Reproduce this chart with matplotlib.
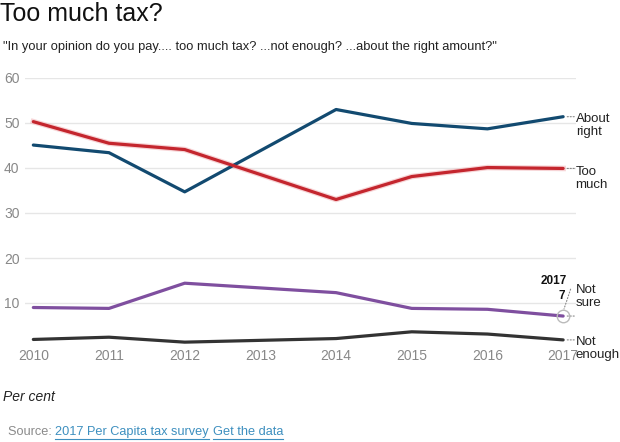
import numpy as np
import matplotlib.pyplot as plt
from matplotlib.lines import Line2D

plt.rcParams['font.family'] = ['Liberation Sans', 'DejaVu Sans']

# --- data (no survey in 2013) ---
years = [2010, 2011, 2012, 2014, 2015, 2016, 2017]
about_right = [45.1, 43.4, 34.7, 53.0, 49.9, 48.7, 51.4]
too_much = [50.3, 45.5, 44.1, 33.0, 38.1, 40.1, 39.9]
not_sure = [9.0, 8.8, 14.4, 12.3, 8.8, 8.6, 7.1]
not_enough = [1.9, 2.4, 1.3, 2.1, 3.6, 3.1, 1.8]

tick_years = [2010, 2011, 2012, 2013, 2014, 2015, 2016, 2017]
y_ticks = [10, 20, 30, 40, 50, 60]

W, H = 620, 442
fig = plt.figure(figsize=(W / 100, H / 100), dpi=100)
ax = fig.add_axes([25 / W, 1 - 348 / H, 551 / W, 270 / H])

def px(x, y):
    return x / W, 1 - y / H

# lines
ax.plot(years, about_right, color='#124a70', lw=2.3, solid_capstyle='round', zorder=3)
ax.plot(years, too_much, color='#f2b8bb', lw=4, alpha=0.6, zorder=2)
ax.plot(years, too_much, color='#c4262e', lw=2.3, solid_capstyle='round', zorder=3)
ax.plot(years, not_sure, color='#7f4f9f', lw=2.3, solid_capstyle='round', zorder=3)
ax.plot(years, not_enough, color='#333333', lw=2.3, solid_capstyle='round', zorder=3)

# highlight point
ax.plot([years[-1]], [not_sure[-1]], 'o', ms=9, mfc='none', mec='#bbbbbb', mew=1, zorder=4)

ax.set_xlim(2009.89, 2017.17)
ax.set_ylim(0, 60)
ax.set_yticks(y_ticks)
ax.set_xticks(tick_years)
ax.grid(axis='y', color='#e6e6e6', lw=1)
ax.set_axisbelow(True)
for s in ax.spines.values():
    s.set_visible(False)
ax.tick_params(length=0, colors='#888888', labelsize=10)
ax.tick_params(axis='x', pad=1)
ax.tick_params(axis='y', pad=4)

# series end labels
labels = [('About\nright', about_right[-1], 3),
          ('Too\nmuch', too_much[-1], 2),
          ('Not\nsure', not_sure[-1], 23),
          ('Not\nenough', not_enough[-1], 3)]
for text, val, off in labels:
    ax.annotate(text, xy=(years[-1], val), xytext=(9, off), textcoords='offset points',
                ha='left', va='top', fontsize=9.5, color='#222222', linespacing=1.15)
    ax.annotate('', xy=(years[-1], val), xytext=(10, 0), textcoords='offset points',
                arrowprops=dict(arrowstyle='-', ls=':', color='#888888', lw=0.8))

# 2017 annotation
ax.annotate('2017', xy=(years[-1], not_sure[-1]), xytext=(3, 21), textcoords='offset points',
            ha='right', va='bottom', fontsize=8.5, fontweight='bold', color='#111111')
ax.annotate('7', xy=(years[-1], not_sure[-1]), xytext=(1, 10), textcoords='offset points',
            ha='right', va='bottom', fontsize=8.5, fontweight='bold', color='#111111')
ax.annotate('', xy=(years[-1], not_sure[-1] + 1), xytext=(6, 18), textcoords='offset points',
            arrowprops=dict(arrowstyle='-', ls=':', color='#888888', lw=0.8))

# titles
fig.text(*px(0, 14), 'Too much tax?', fontsize=18, va='center', ha='left', color='#111111')
fig.text(*px(3, 47), '"In your opinion do you pay.... too much tax? ...not enough? ...about the right amount?"',
         fontsize=9.3, va='center', ha='left', color='#222222')
fig.text(*px(3, 397), 'Per cent', fontsize=10, style='italic', va='center', ha='left', color='#222222')

# source line with links
r = fig.canvas.get_renderer()
t0 = fig.text(*px(8, 432), 'Source: ', fontsize=9.2, va='center', ha='left', color='#8a8a8a')
x = t0.get_window_extent(r).x1
link_col = '#3d8fbf'
for i, s in enumerate(['2017 Per Capita tax survey', 'Get the data']):
    t = fig.text(x / W, 1 - 432 / H, s, fontsize=9.2, va='center', ha='left', color=link_col)
    bb = t.get_window_extent(r)
    uy = (bb.y0 - 1) / H
    fig.add_artist(Line2D([bb.x0 / W, bb.x1 / W], [uy, uy], color=link_col, lw=0.8))
    x = bb.x1 + 4

fig.savefig('out.png', dpi=100)
